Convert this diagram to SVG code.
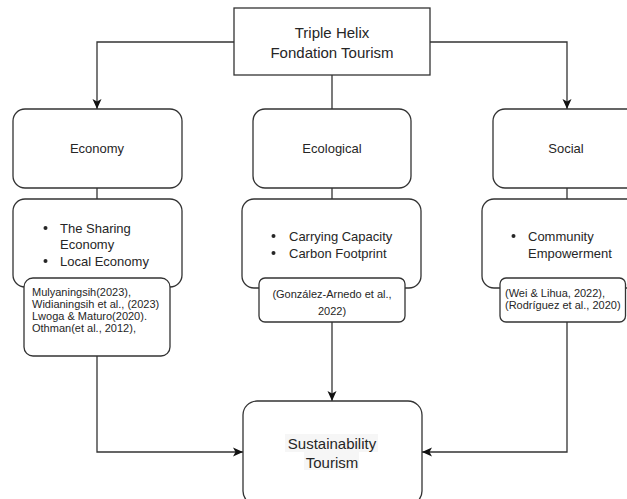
<svg xmlns="http://www.w3.org/2000/svg" width="627" height="499" viewBox="0 0 627 499">
<style>
  .box { fill: #ffffff; stroke: #333333; stroke-width: 1.3; }
  .conn { fill: none; stroke: #333333; stroke-width: 1.3; }
  .t { font-family: "Liberation Sans", Arial, sans-serif; fill: #262626; }
  .h15 { font-size: 15px; text-anchor: middle; }
  .h13 { font-size: 13px; text-anchor: middle; }
  .b13 { font-size: 13px; }
  .c11 { font-size: 11px; }
  .dot { fill: #262626; }
</style>
<defs>
  <marker id="arr" viewBox="0 0 10 10" refX="10" refY="5" markerWidth="10" markerHeight="10" markerUnits="userSpaceOnUse" orient="auto">
    <path d="M0,0.5 L10,5 L0,9.5 L2.5,5 z" fill="#111111"/>
  </marker>
</defs>
<rect width="627" height="499" fill="#ffffff"/>

<g id="connectors">
  <path class="conn" d="M234,42 H97 V109" marker-end="url(#arr)"/>
  <path class="conn" d="M430,42 H567 V109" marker-end="url(#arr)"/>
  <path class="conn" d="M332,75 V109" stroke="#555555"/>
  <path class="conn" d="M97,188 V199"/>
  <path class="conn" d="M332,188 V199"/>
  <path class="conn" d="M567,188 V199"/>
  <path class="conn" d="M97,356 V452 H243" marker-end="url(#arr)"/>
  <path class="conn" d="M332,322 V401" marker-end="url(#arr)"/>
  <path class="conn" d="M567,322 V452 H422" marker-end="url(#arr)"/>
</g>

<g id="top">
  <rect class="box" x="234" y="8" width="196" height="67" stroke="#111111"/>
  <text class="t h15" x="332" y="38">Triple Helix</text>
  <text class="t h15" x="332" y="58">Fondation Tourism</text>
</g>

<g id="economy">
  <rect class="box" x="13" y="109" width="169" height="79" rx="12"/>
  <text class="t h13" x="97" y="152.5">Economy</text>
</g>
<g id="economy-list">
  <rect class="box" x="13" y="199" width="169" height="88" rx="12"/>
  <circle class="dot" cx="45.5" cy="228" r="2"/>
  <circle class="dot" cx="45.5" cy="261" r="2"/>
  <text class="t b13" x="60" y="232.5">The Sharing</text>
  <text class="t b13" x="60" y="249">Economy</text>
  <text class="t b13" x="60" y="265.5">Local Economy</text>
</g>
<g id="economy-cite">
  <rect class="box" x="24" y="278" width="146" height="78" rx="9"/>
  <text class="t c11" x="32" y="296">Mulyaningsih(2023),</text>
  <text class="t c11" x="32" y="308">Widianingsih et al., (2023)</text>
  <text class="t c11" x="32" y="320">Lwoga &amp; Maturo(2020).</text>
  <text class="t c11" x="32" y="332">Othman(et al., 2012),</text>
</g>

<g id="ecological">
  <rect class="box" x="253" y="109" width="158" height="79" rx="12"/>
  <text class="t h13" x="332" y="152.5">Ecological</text>
</g>
<g id="ecological-list">
  <rect class="box" x="242" y="199" width="179" height="89" rx="12"/>
  <circle class="dot" cx="273.5" cy="236" r="2"/>
  <circle class="dot" cx="273.5" cy="253" r="2"/>
  <text class="t b13" x="289" y="240.5">Carrying Capacity</text>
  <text class="t b13" x="289" y="257.5">Carbon Footprint</text>
</g>
<g id="ecological-cite">
  <rect class="box" x="259" y="278" width="146" height="44" rx="6"/>
  <text class="t c11" x="332" y="298" text-anchor="middle">(González-Arnedo et al.,</text>
  <text class="t c11" x="332" y="315" text-anchor="middle">2022)</text>
</g>

<g id="social">
  <rect class="box" x="493" y="109" width="148" height="79" rx="12"/>
  <text class="t h13" x="566" y="152.5">Social</text>
</g>
<g id="social-list">
  <rect class="box" x="482" y="199" width="170" height="89" rx="12"/>
  <circle class="dot" cx="513.5" cy="236" r="2"/>
  <text class="t b13" x="528" y="240.5">Community</text>
  <text class="t b13" x="528" y="257.5">Empowerment</text>
</g>
<g id="social-cite">
  <rect class="box" x="500" y="278" width="125.5" height="44" rx="6"/>
  <text class="t c11" x="505" y="297">(Wei &amp; Lihua, 2022),</text>
  <text class="t c11" x="505" y="309">(Rodríguez et al., 2020)</text>
</g>

<g id="sustainability">
  <rect class="box" x="243" y="401" width="179" height="104" rx="14"/>
  <rect x="285" y="434" width="93" height="18" fill="#f6f6f6"/>
  <rect x="304" y="452" width="55" height="18" fill="#f6f6f6"/>
  <text class="t h15" x="332" y="448.5">Sustainability</text>
  <text class="t h15" x="332" y="467.5">Tourism</text>
</g>
</svg>
